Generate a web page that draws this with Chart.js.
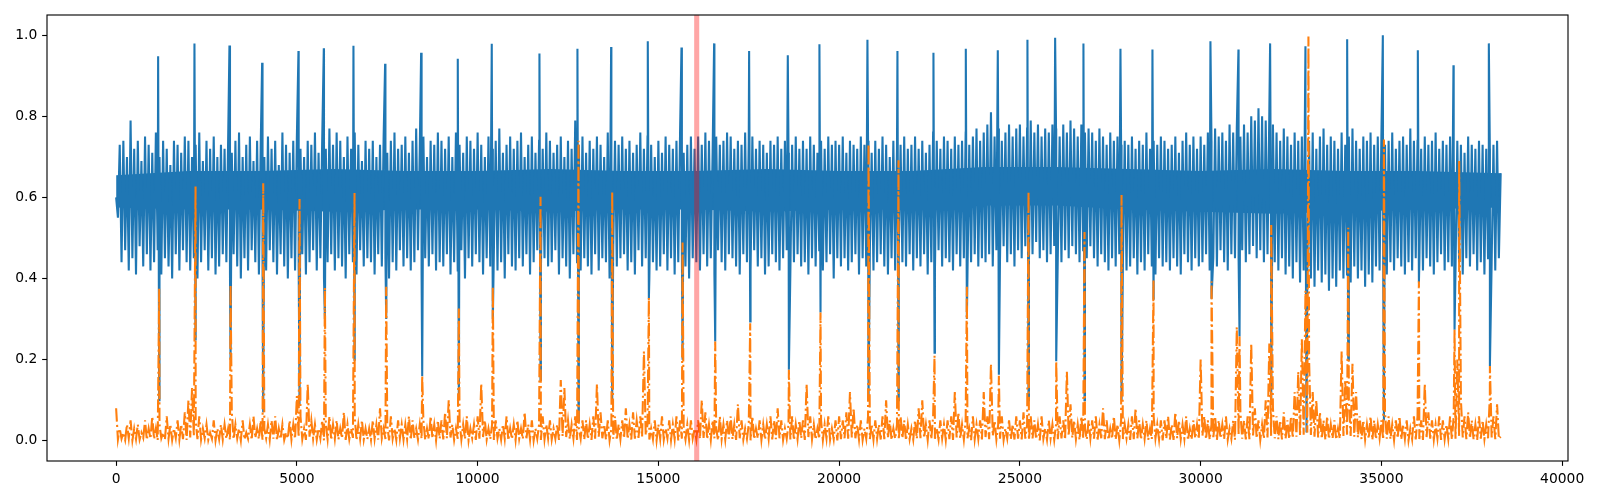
<!DOCTYPE html>
<html>
<head>
<meta charset="utf-8">
<script src="https://cdn.jsdelivr.net/npm/chart.js@4.4.1/dist/chart.umd.min.js"></script>
<style>
  html, body { margin: 0; padding: 0; background: #fff; }
  #chart { display: block; }
</style>
</head>
<body>
<canvas id="chart" width="1600" height="500"></canvas>
<script>
/**
 * Two dense signals (blue / orange) over ~38k samples, with a marked window in red.
 * Each SAMPLE_STEP bin keeps its top and bottom value; the big spikes are listed separately.
 */

const SAMPLE_STEP = 100;
const SPIKE_WIDTH = 30;

// blue: top of each bin (x = i * 100)
const blueHigh = [
    0.60, 0.73, 0.74, 0.70, 0.79, 0.72, 0.74, 0.69, 0.75, 0.73,
    0.71, 0.76, 0.70, 0.74, 0.72, 0.68, 0.74, 0.73, 0.71, 0.75,
    0.74, 0.70, 0.73, 0.76, 0.69, 0.74, 0.72, 0.75, 0.70, 0.73,
    0.72, 0.75, 0.71, 0.74, 0.76, 0.70, 0.73, 0.75, 0.69, 0.74,
    0.73, 0.70, 0.75, 0.72, 0.74, 0.68, 0.76, 0.73, 0.71, 0.74,
    0.75, 0.72, 0.70, 0.74, 0.73, 0.76, 0.71, 0.74, 0.72, 0.77,
    0.73, 0.76, 0.74, 0.70, 0.75, 0.72, 0.76, 0.73, 0.69, 0.74,
    0.72, 0.74, 0.70, 0.73, 0.75, 0.71, 0.74, 0.76, 0.72, 0.73,
    0.75, 0.71, 0.74, 0.77, 0.72, 0.75, 0.70, 0.74, 0.73, 0.76,
    0.74, 0.72, 0.75, 0.70, 0.76, 0.73, 0.71, 0.75, 0.74, 0.72,
    0.76, 0.73, 0.70, 0.75, 0.72, 0.74, 0.77, 0.71, 0.73, 0.75,
    0.72, 0.74, 0.76, 0.70, 0.73, 0.75, 0.71, 0.74, 0.72, 0.76,
    0.74, 0.71, 0.73, 0.75, 0.70, 0.74, 0.72, 0.79, 0.73, 0.75,
    0.71, 0.74, 0.72, 0.75, 0.73, 0.70, 0.76, 0.72, 0.74, 0.73,
    0.75, 0.72, 0.74, 0.71, 0.73, 0.76, 0.72, 0.75, 0.73, 0.70,
    0.74, 0.71, 0.75, 0.73, 0.72, 0.74, 0.76, 0.71, 0.73, 0.75,
    0.72, 0.75, 0.73, 0.76, 0.74, 0.71, 0.75, 0.73, 0.74, 0.76,
    0.75, 0.72, 0.74, 0.73, 0.76, 0.74, 0.75, 0.72, 0.74, 0.73,
    0.71, 0.74, 0.73, 0.75, 0.72, 0.74, 0.71, 0.73, 0.75, 0.72,
    0.74, 0.72, 0.75, 0.73, 0.71, 0.74, 0.72, 0.75, 0.73, 0.74,
    0.73, 0.75, 0.71, 0.74, 0.73, 0.72, 0.75, 0.73, 0.74, 0.71,
    0.74, 0.72, 0.75, 0.73, 0.70, 0.74, 0.72, 0.73, 0.75, 0.72,
    0.73, 0.75, 0.72, 0.74, 0.71, 0.73, 0.76, 0.74, 0.72, 0.75,
    0.74, 0.72, 0.75, 0.73, 0.74, 0.76, 0.73, 0.75, 0.77, 0.74,
    0.76, 0.78, 0.81, 0.75, 0.77, 0.74, 0.76, 0.78, 0.75, 0.77,
    0.78, 0.75, 0.77, 0.79, 0.76, 0.78, 0.75, 0.77, 0.76, 0.78,
    0.77, 0.75, 0.78, 0.76, 0.79, 0.77, 0.75, 0.78, 0.76, 0.77,
    0.76, 0.74, 0.77, 0.75, 0.73, 0.76, 0.74, 0.75, 0.73, 0.74,
    0.73, 0.75, 0.72, 0.74, 0.73, 0.76, 0.72, 0.74, 0.73, 0.75,
    0.74, 0.72, 0.73, 0.75, 0.71, 0.74, 0.76, 0.73, 0.75, 0.72,
    0.75, 0.73, 0.76, 0.74, 0.77, 0.75, 0.76, 0.74, 0.78, 0.76,
    0.77, 0.75, 0.78, 0.76, 0.80, 0.79, 0.82, 0.80, 0.79, 0.81,
    0.78, 0.76, 0.74, 0.77, 0.75, 0.73, 0.76, 0.74, 0.75, 0.73,
    0.74, 0.76, 0.72, 0.75, 0.77, 0.73, 0.75, 0.74, 0.72, 0.76,
    0.73, 0.75, 0.77, 0.74, 0.72, 0.75, 0.74, 0.76, 0.73, 0.75,
    0.75, 0.73, 0.74, 0.76, 0.72, 0.74, 0.75, 0.73, 0.77, 0.74,
    0.74, 0.72, 0.75, 0.73, 0.74, 0.76, 0.72, 0.74, 0.73, 0.75,
    0.72, 0.74, 0.73, 0.71, 0.75, 0.73, 0.72, 0.74, 0.73, 0.72,
    0.72, 0.73, 0.74, 0.66
];

// blue: bottom of each bin (x = i * 100 + 50)
const blueLow = [
    0.55, 0.44, 0.47, 0.42, 0.45, 0.41, 0.48, 0.43, 0.46, 0.42,
    0.44, 0.47, 0.41, 0.45, 0.43, 0.40, 0.46, 0.42, 0.47, 0.44,
    0.42, 0.45, 0.40, 0.44, 0.47, 0.42, 0.45, 0.41, 0.43, 0.46,
    0.44, 0.41, 0.46, 0.43, 0.40, 0.45, 0.42, 0.47, 0.44, 0.41,
    0.45, 0.42, 0.47, 0.44, 0.41, 0.46, 0.43, 0.40, 0.45, 0.42,
    0.43, 0.46, 0.41, 0.44, 0.47, 0.42, 0.45, 0.40, 0.44, 0.46,
    0.42, 0.45, 0.43, 0.40, 0.46, 0.44, 0.41, 0.47, 0.43, 0.45,
    0.44, 0.41, 0.46, 0.43, 0.45, 0.40, 0.44, 0.42, 0.47, 0.43,
    0.45, 0.42, 0.44, 0.47, 0.41, 0.45, 0.43, 0.46, 0.42, 0.44,
    0.43, 0.46, 0.41, 0.44, 0.42, 0.47, 0.40, 0.45, 0.43, 0.46,
    0.44, 0.41, 0.45, 0.43, 0.47, 0.42, 0.44, 0.40, 0.46, 0.43,
    0.42, 0.45, 0.43, 0.46, 0.41, 0.44, 0.47, 0.42, 0.45, 0.43,
    0.44, 0.47, 0.41, 0.45, 0.43, 0.40, 0.46, 0.44, 0.42, 0.45,
    0.43, 0.41, 0.46, 0.42, 0.45, 0.44, 0.40, 0.47, 0.43, 0.45,
    0.46, 0.42, 0.44, 0.41, 0.47, 0.43, 0.45, 0.40, 0.44, 0.42,
    0.43, 0.46, 0.42, 0.45, 0.41, 0.44, 0.47, 0.43, 0.40, 0.45,
    0.44, 0.42, 0.46, 0.43, 0.45, 0.41, 0.47, 0.44, 0.42, 0.46,
    0.45, 0.43, 0.41, 0.46, 0.44, 0.42, 0.47, 0.43, 0.45, 0.41,
    0.43, 0.46, 0.44, 0.42, 0.45, 0.47, 0.41, 0.44, 0.46, 0.43,
    0.44, 0.41, 0.45, 0.43, 0.47, 0.42, 0.44, 0.46, 0.40, 0.45,
    0.43, 0.45, 0.42, 0.44, 0.46, 0.41, 0.45, 0.43, 0.47, 0.42,
    0.44, 0.46, 0.43, 0.41, 0.45, 0.42, 0.47, 0.44, 0.43, 0.46,
    0.42, 0.45, 0.43, 0.46, 0.41, 0.44, 0.42, 0.47, 0.43, 0.45,
    0.44, 0.42, 0.46, 0.43, 0.45, 0.41, 0.44, 0.46, 0.43, 0.45,
    0.44, 0.46, 0.43, 0.47, 0.45, 0.48, 0.44, 0.46, 0.43, 0.47,
    0.45, 0.48, 0.44, 0.46, 0.49, 0.45, 0.47, 0.44, 0.46, 0.48,
    0.46, 0.44, 0.47, 0.45, 0.48, 0.46, 0.44, 0.47, 0.45, 0.48,
    0.45, 0.43, 0.46, 0.44, 0.42, 0.45, 0.43, 0.46, 0.44, 0.42,
    0.43, 0.45, 0.41, 0.44, 0.42, 0.46, 0.43, 0.41, 0.45, 0.43,
    0.44, 0.42, 0.45, 0.43, 0.41, 0.46, 0.44, 0.42, 0.45, 0.43,
    0.44, 0.46, 0.42, 0.45, 0.43, 0.47, 0.44, 0.42, 0.46, 0.45,
    0.45, 0.47, 0.44, 0.46, 0.48, 0.45, 0.47, 0.44, 0.46, 0.43,
    0.44, 0.42, 0.45, 0.41, 0.43, 0.40, 0.44, 0.39, 0.42, 0.41,
    0.40, 0.38, 0.42, 0.39, 0.41, 0.37, 0.40, 0.38, 0.42, 0.40,
    0.41, 0.39, 0.43, 0.40, 0.42, 0.38, 0.41, 0.39, 0.43, 0.42,
    0.43, 0.41, 0.44, 0.42, 0.45, 0.43, 0.41, 0.44, 0.42, 0.45,
    0.44, 0.42, 0.45, 0.43, 0.41, 0.44, 0.46, 0.42, 0.44, 0.43,
    0.42, 0.44, 0.41, 0.45, 0.43, 0.46, 0.42, 0.44, 0.41, 0.45,
    0.44, 0.42, 0.45
];

// solid middle of the blue band, read at these sample positions
const coreX = [0, 2000, 4000, 6000, 8000, 10000, 12000, 14000, 16000, 18000,
    20000, 22000, 24000, 26000, 28000, 30000, 32000, 34000, 36000, 38300];
const coreTop = [0.655, 0.665, 0.665, 0.67, 0.665, 0.665, 0.67, 0.665, 0.665, 0.67,
    0.665, 0.665, 0.675, 0.675, 0.67, 0.665, 0.67, 0.665, 0.665, 0.66];
const coreBottom = [0.575, 0.57, 0.57, 0.565, 0.57, 0.57, 0.565, 0.57, 0.57, 0.565,
    0.57, 0.57, 0.58, 0.58, 0.57, 0.565, 0.56, 0.565, 0.57, 0.575];

// orange: top of each bin (x = i * 100)
const orangeHigh = [
    0.08, 0.03, 0.02, 0.04, 0.05, 0.03, 0.04, 0.02, 0.05, 0.03,
    0.06, 0.03, 0.04, 0.02, 0.06, 0.04, 0.03, 0.05, 0.04, 0.07,
    0.10, 0.13, 0.05, 0.06, 0.03, 0.04, 0.02, 0.05, 0.03, 0.04,
    0.04, 0.03, 0.07, 0.04, 0.03, 0.05, 0.02, 0.04, 0.06, 0.03,
    0.05, 0.03, 0.04, 0.05, 0.06, 0.03, 0.04, 0.02, 0.05, 0.04,
    0.11, 0.06, 0.03, 0.14, 0.05, 0.04, 0.03, 0.05, 0.04, 0.06,
    0.04, 0.05, 0.03, 0.07, 0.04, 0.03, 0.06, 0.04, 0.05, 0.03,
    0.03, 0.05, 0.04, 0.08, 0.03, 0.04, 0.06, 0.03, 0.05, 0.04,
    0.04, 0.06, 0.05, 0.03, 0.04, 0.05, 0.03, 0.06, 0.04, 0.05,
    0.05, 0.07, 0.10, 0.04, 0.03, 0.05, 0.04, 0.06, 0.03, 0.04,
    0.06, 0.14, 0.05, 0.03, 0.04, 0.05, 0.03, 0.04, 0.06, 0.03,
    0.04, 0.05, 0.03, 0.07, 0.04, 0.05, 0.03, 0.04, 0.06, 0.04,
    0.05, 0.03, 0.04, 0.15, 0.13, 0.05, 0.04, 0.06, 0.03, 0.05,
    0.05, 0.04, 0.06, 0.14, 0.07, 0.04, 0.05, 0.03, 0.06, 0.04,
    0.05, 0.08, 0.04, 0.07, 0.05, 0.06, 0.22, 0.04, 0.03, 0.05,
    0.04, 0.06, 0.03, 0.05, 0.04, 0.06, 0.05, 0.03, 0.04, 0.05,
    0.03, 0.05, 0.10, 0.07, 0.04, 0.05, 0.03, 0.06, 0.04, 0.05,
    0.06, 0.04, 0.09, 0.05, 0.03, 0.04, 0.06, 0.03, 0.05, 0.04,
    0.04, 0.06, 0.05, 0.08, 0.05, 0.03, 0.04, 0.06, 0.04, 0.05,
    0.05, 0.14, 0.06, 0.04, 0.03, 0.05, 0.04, 0.06, 0.03, 0.05,
    0.06, 0.05, 0.07, 0.12, 0.08, 0.04, 0.05, 0.03, 0.06, 0.04,
    0.05, 0.04, 0.06, 0.10, 0.05, 0.03, 0.04, 0.06, 0.05, 0.04,
    0.03, 0.05, 0.08, 0.10, 0.04, 0.05, 0.06, 0.03, 0.05, 0.04,
    0.05, 0.06, 0.12, 0.07, 0.04, 0.05, 0.03, 0.06, 0.04, 0.05,
    0.12, 0.06, 0.19, 0.05, 0.04, 0.06, 0.03, 0.05, 0.04, 0.06,
    0.05, 0.07, 0.04, 0.06, 0.05, 0.04, 0.06, 0.03, 0.05, 0.04,
    0.04, 0.06, 0.05, 0.17, 0.09, 0.05, 0.04, 0.06, 0.03, 0.05,
    0.05, 0.06, 0.04, 0.08, 0.05, 0.03, 0.06, 0.04, 0.05, 0.04,
    0.04, 0.06, 0.08, 0.05, 0.04, 0.05, 0.03, 0.06, 0.04, 0.05,
    0.05, 0.06, 0.04, 0.07, 0.05, 0.04, 0.06, 0.03, 0.05, 0.04,
    0.20, 0.06, 0.05, 0.04, 0.06, 0.05, 0.04, 0.06, 0.03, 0.05,
    0.28, 0.07, 0.05, 0.06, 0.24, 0.08, 0.05, 0.04, 0.10, 0.24,
    0.08, 0.06, 0.05, 0.07, 0.05, 0.06, 0.12, 0.17, 0.25, 0.37,
    0.20, 0.12, 0.10, 0.07, 0.05, 0.06, 0.04, 0.05, 0.03, 0.22,
    0.15, 0.10, 0.19, 0.12, 0.06, 0.05, 0.04, 0.06, 0.05, 0.04,
    0.05, 0.07, 0.06, 0.04, 0.05, 0.06, 0.04, 0.05, 0.03, 0.06,
    0.06, 0.05, 0.14, 0.07, 0.05, 0.04, 0.06, 0.05, 0.04, 0.06,
    0.06, 0.20, 0.10, 0.06, 0.07, 0.05, 0.04, 0.06, 0.05, 0.04,
    0.11, 0.06, 0.09, 0.01
];

// orange: bottom of each bin (x = i * 100 + 50)
const orangeLow = [
    0.003, 0.005, 0.002, 0.006, 0.001, 0.004, 0.003, 0.007, 0.002, 0.005,
    0.004, 0.001, 0.006, 0.003, 0.005, 0.002, 0.007, 0.003, 0.004, 0.002,
    0.008, 0.012, 0.004, 0.003, 0.006, 0.002, 0.005, 0.001, 0.004, 0.003,
    0.005, 0.002, 0.004, 0.006, 0.001, 0.003, 0.005, 0.002, 0.007, 0.004,
    0.002, 0.006, 0.003, 0.005, 0.001, 0.004, 0.002, 0.006, 0.003, 0.005,
    0.009, 0.004, 0.002, 0.010, 0.005, 0.003, 0.006, 0.001, 0.004, 0.002,
    0.005, 0.003, 0.006, 0.002, 0.004, 0.007, 0.001, 0.005, 0.003, 0.004,
    0.002, 0.005, 0.003, 0.006, 0.004, 0.001, 0.005, 0.002, 0.006, 0.003,
    0.004, 0.002, 0.007, 0.003, 0.005, 0.002, 0.004, 0.006, 0.001, 0.005,
    0.003, 0.006, 0.008, 0.002, 0.005, 0.003, 0.004, 0.001, 0.006, 0.002,
    0.005, 0.009, 0.003, 0.004, 0.002, 0.006, 0.003, 0.005, 0.001, 0.004,
    0.002, 0.005, 0.004, 0.006, 0.003, 0.001, 0.005, 0.002, 0.004, 0.006,
    0.003, 0.005, 0.002, 0.011, 0.009, 0.004, 0.006, 0.002, 0.005, 0.003,
    0.004, 0.002, 0.005, 0.010, 0.006, 0.003, 0.001, 0.005, 0.002, 0.004,
    0.006, 0.004, 0.003, 0.005, 0.007, 0.010, 0.014, 0.003, 0.004, 0.001,
    0.005, 0.003, 0.006, 0.002, 0.004, 0.001, 0.005, 0.003, 0.002, 0.006,
    0.003, 0.005, 0.007, 0.004, 0.002, 0.006, 0.001, 0.004, 0.003, 0.005,
    0.004, 0.002, 0.006, 0.003, 0.005, 0.001, 0.004, 0.006, 0.002, 0.003,
    0.005, 0.003, 0.004, 0.006, 0.002, 0.005, 0.003, 0.001, 0.004, 0.006,
    0.002, 0.009, 0.004, 0.003, 0.005, 0.002, 0.006, 0.003, 0.004, 0.001,
    0.004, 0.006, 0.005, 0.008, 0.006, 0.003, 0.002, 0.005, 0.004, 0.003,
    0.005, 0.003, 0.004, 0.007, 0.002, 0.005, 0.003, 0.006, 0.001, 0.004,
    0.003, 0.005, 0.006, 0.007, 0.002, 0.004, 0.005, 0.003, 0.006, 0.002,
    0.004, 0.002, 0.008, 0.005, 0.003, 0.006, 0.001, 0.004, 0.005, 0.003,
    0.009, 0.004, 0.012, 0.003, 0.005, 0.002, 0.006, 0.004, 0.003, 0.005,
    0.003, 0.005, 0.002, 0.006, 0.004, 0.001, 0.005, 0.003, 0.006, 0.002,
    0.004, 0.006, 0.003, 0.012, 0.007, 0.004, 0.002, 0.005, 0.003, 0.006,
    0.005, 0.003, 0.006, 0.004, 0.002, 0.005, 0.003, 0.001, 0.004, 0.006,
    0.002, 0.004, 0.006, 0.003, 0.005, 0.002, 0.004, 0.006, 0.003, 0.001,
    0.005, 0.003, 0.002, 0.006, 0.004, 0.005, 0.001, 0.003, 0.006, 0.004,
    0.012, 0.004, 0.003, 0.005, 0.002, 0.006, 0.004, 0.003, 0.005, 0.002,
    0.015, 0.005, 0.003, 0.004, 0.013, 0.006, 0.002, 0.005, 0.008, 0.012,
    0.006, 0.004, 0.003, 0.005, 0.004, 0.006, 0.010, 0.012, 0.015, 0.020,
    0.014, 0.010, 0.008, 0.005, 0.003, 0.004, 0.006, 0.003, 0.005, 0.012,
    0.015, 0.012, 0.010, 0.008, 0.004, 0.003, 0.005, 0.002, 0.004, 0.006,
    0.003, 0.005, 0.004, 0.002, 0.006, 0.003, 0.005, 0.001, 0.004, 0.003,
    0.004, 0.002, 0.009, 0.005, 0.003, 0.006, 0.002, 0.004, 0.005, 0.003,
    0.005, 0.012, 0.008, 0.004, 0.006, 0.003, 0.002, 0.005, 0.004, 0.006,
    0.008, 0.004, 0.005
];

// big blue spikes: sample index, peak value, bottom of the dip
const spikeX = [1162, 2167, 3135, 4039, 5044, 5745, 6565, 7441, 8437, 9451,
    10391, 11710, 12761, 13693, 14707, 15639, 16542, 17510, 18580, 19455,
    20783, 21613, 22609, 23504, 24389, 25209, 25975, 26758, 27782, 28667,
    30271, 31046, 31922, 32899, 34053, 35040, 36008, 36994, 37972];
const spikeHigh = [0.948, 0.980, 0.975, 0.932, 0.961, 0.968, 0.974, 0.930, 0.957, 0.942,
    0.979, 0.955, 0.967, 0.971, 0.985, 0.970, 0.980, 0.961, 0.951, 0.978,
    0.989, 0.961, 0.957, 0.967, 0.963, 0.989, 0.994, 0.980, 0.967, 0.965,
    0.985, 0.965, 0.980, 0.973, 0.990, 1.000, 0.963, 0.926, 0.980];
const spikeLow = [0.10, 0.25, 0.20, 0.07, 0.09, 0.30, 0.20, 0.30, 0.159, 0.10,
    0.30, 0.15, 0.05, 0.10, 0.35, 0.20, 0.245, 0.294, 0.175, 0.316,
    0.10, 0.10, 0.217, 0.30, 0.163, 0.10, 0.196, 0.10, 0.10, 0.35,
    0.35, 0.257, 0.10, 0.02, 0.20, 0.05, 0.39, 0.274, 0.184];

// big orange spikes
const orangePeakX = [1192, 2197, 3165, 4069, 5074, 5775, 6595, 7471, 8467, 9481,
    10421, 11740, 12791, 13723, 14737, 15669, 16572, 17540, 18610, 19485,
    20813, 21643, 22639, 23534, 24419, 25239, 26005, 26788, 27812, 28697,
    30301, 31076, 31952, 32982, 34083, 35070, 36038, 37024, 37151, 38002];
const orangePeak = [0.375, 0.627, 0.385, 0.635, 0.596, 0.377, 0.611, 0.380, 0.160, 0.326,
    0.380, 0.602, 0.740, 0.614, 0.353, 0.489, 0.245, 0.290, 0.175, 0.316,
    0.732, 0.692, 0.210, 0.380, 0.160, 0.614, 0.196, 0.515, 0.606, 0.397,
    0.393, 0.257, 0.532, 0.997, 0.525, 0.743, 0.393, 0.274, 0.690, 0.184];

// highlighted window
const bandStart = 15990;
const bandEnd = 16130;

const xTickValues = [0, 5000, 10000, 15000, 20000, 25000, 30000, 35000, 40000];
const yTickValues = [0.0, 0.2, 0.4, 0.6, 0.8, 1.0];

/**
 * Interleave bin tops and bottoms, then merge in the listed spikes.
 */
function buildSeries(highs, lows, extraX, extraY) {
    const pts = [];
    highs.forEach((v, i) => {
        pts.push({ x: i * SAMPLE_STEP, y: v });
        if (i < lows.length) {
            pts.push({ x: i * SAMPLE_STEP + SAMPLE_STEP / 2, y: lows[i] });
        }
    });
    extraX.forEach((x, i) => pts.push({ x: x, y: extraY[i] }));
    pts.sort((a, b) => a.x - b.x);
    return pts;
}

const blueSpikeX = [];
const blueSpikeY = [];
spikeX.forEach((x, i) => {
    blueSpikeX.push(x, x + SPIKE_WIDTH);
    blueSpikeY.push(spikeHigh[i], spikeLow[i]);
});

const blueSeries = buildSeries(blueHigh, blueLow, blueSpikeX, blueSpikeY);
const orangeSeries = buildSeries(orangeHigh, orangeLow, orangePeakX, orangePeak);
const coreTopSeries = coreX.map((x, i) => ({ x: x, y: coreTop[i] }));
const coreBottomSeries = coreX.map((x, i) => ({ x: x, y: coreBottom[i] }));

const PT = 100 / 72;
const FONT = { family: 'DejaVu Sans', size: 10 * PT };
const BLUE = '#1f77b4';
const ORANGE = '#ff7f0e';

const framePlugin = {
    id: 'frame',
    afterDatasetsDraw(chart) {
        const ctx = chart.ctx;
        const area = chart.chartArea;
        const x = chart.scales.x;
        const x0 = x.getPixelForValue(bandStart);
        const x1 = x.getPixelForValue(bandEnd);
        ctx.save();
        ctx.fillStyle = 'rgba(255, 0, 0, 0.35)';
        ctx.fillRect(x0, area.top, x1 - x0, area.bottom - area.top);
        ctx.restore();
    },
    afterDraw(chart) {
        const ctx = chart.ctx;
        const area = chart.chartArea;
        ctx.save();
        ctx.strokeStyle = '#000';
        ctx.lineWidth = 0.8 * PT;
        ctx.strokeRect(area.left, area.top, area.right - area.left, area.bottom - area.top);
        ctx.restore();
    }
};

function axisGrid() {
    return {
        drawOnChartArea: false,
        drawTicks: true,
        tickLength: 3.5 * PT,
        tickWidth: 0.8 * PT,
        tickColor: '#000'
    };
}

new Chart(document.getElementById('chart'), {
    type: 'line',
    data: {
        datasets: [
            {
                label: 'core',
                data: coreTopSeries,
                borderWidth: 0,
                borderColor: BLUE,
                backgroundColor: BLUE,
                pointRadius: 0,
                fill: '+1',
                order: 3
            },
            {
                label: 'core bottom',
                data: coreBottomSeries,
                borderWidth: 0,
                borderColor: BLUE,
                pointRadius: 0,
                fill: false,
                order: 3
            },
            {
                label: 'blue',
                data: blueSeries,
                borderColor: BLUE,
                borderWidth: 1.5 * PT,
                pointRadius: 0,
                tension: 0,
                fill: false,
                order: 2
            },
            {
                label: 'orange',
                data: orangeSeries,
                borderColor: ORANGE,
                borderWidth: 1.5 * PT,
                borderDash: [9.6 * PT, 2.4 * PT, 1.5 * PT, 2.4 * PT],
                pointRadius: 0,
                tension: 0,
                fill: false,
                order: 1
            }
        ]
    },
    options: {
        responsive: false,
        animation: false,
        devicePixelRatio: 1,
        layout: {
            padding: { top: 15, right: 32, bottom: 0, left: 0 }
        },
        plugins: {
            legend: { display: false },
            tooltip: { enabled: false }
        },
        scales: {
            x: {
                type: 'linear',
                min: -1912,
                max: 40162,
                afterFit: (s) => { s.height = 39; },
                afterBuildTicks: (s) => { s.ticks = xTickValues.map(v => ({ value: v })); },
                border: { display: false },
                grid: axisGrid(),
                ticks: {
                    autoSkip: false,
                    maxRotation: 0,
                    padding: 3.5 * PT,
                    color: '#000',
                    font: FONT,
                    callback: (v) => String(v)
                }
            },
            y: {
                type: 'linear',
                min: -0.05,
                max: 1.05,
                afterFit: (s) => { s.width = 47; },
                afterBuildTicks: (s) => { s.ticks = yTickValues.map(v => ({ value: v })); },
                border: { display: false },
                grid: axisGrid(),
                ticks: {
                    autoSkip: false,
                    padding: 3.5 * PT,
                    color: '#000',
                    font: FONT,
                    callback: (v) => v.toFixed(1)
                }
            }
        }
    },
    plugins: [framePlugin]
});
</script>
</body>
</html>
